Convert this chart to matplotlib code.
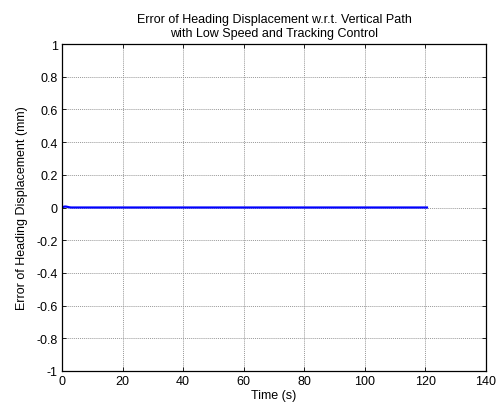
import matplotlib
matplotlib.use("Agg")
import matplotlib.pyplot as plt

plt.rcParams['font.family'] = ['Liberation Sans', 'DejaVu Sans']

# Heading displacement error over time (mm)
time_s = [0, 0.5, 1.0, 1.5, 2.0, 2.5, 3.0, 120.5]
error_mm = [0, 0.004, 0.006, 0.005, 0.003, 0.001, 0, 0]

x_ticks = [0, 20, 40, 60, 80, 100, 120, 140]
y_ticks = [-1, -0.8, -0.6, -0.4, -0.2, 0, 0.2, 0.4, 0.6, 0.8, 1]
y_labels = ['-1', '-0.8', '-0.6', '-0.4', '-0.2', '0', '0.2', '0.4', '0.6', '0.8', '1']

fig = plt.figure(figsize=(5.0, 4.1), dpi=100)
ax = fig.add_axes([62 / 500, 38 / 410, 424 / 500, 327 / 410])

ax.plot(time_s, error_mm, color='#0000ff', linewidth=1.6)

ax.set_xlim(0, 140)
ax.set_ylim(-1, 1)
ax.set_xticks(x_ticks)
ax.set_yticks(y_ticks)
ax.set_yticklabels(y_labels)
ax.grid(True, color='#999999', linestyle=(0, (1, 1)), linewidth=0.7)
ax.tick_params(direction='in', length=3, labelsize=9, top=True, right=True, width=0.6, pad=3)
for s in ax.spines.values():
    s.set_linewidth(0.9)

ax.set_xlabel('Time (s)', fontsize=9, labelpad=1)
ax.set_ylabel('Error of Heading Displacement (mm)', fontsize=9, labelpad=6)
ax.set_title('Error of Heading Displacement w.r.t. Vertical Path\nwith Low Speed and Tracking Control',
             fontsize=9, pad=6, linespacing=1.15)

fig.savefig('out.png', dpi=100)
